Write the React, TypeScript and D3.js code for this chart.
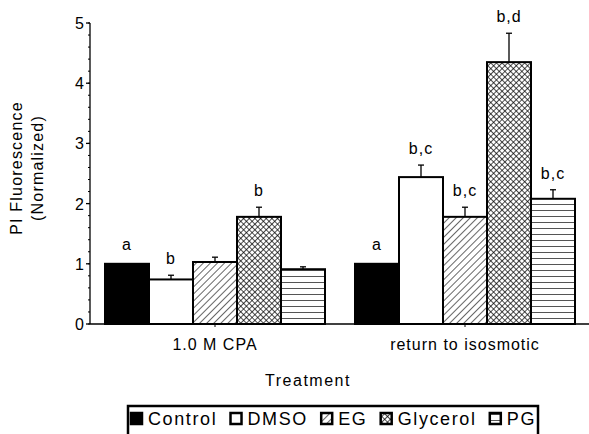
import React from 'react';
import * as d3 from 'd3';

const groups = ['1.0 M CPA', 'return to isosmotic'];
const series = ['Control', 'DMSO', 'EG', 'Glycerol', 'PG'];
const cpaValues = [1.0, 0.74, 1.03, 1.78, 0.91];
const cpaErrors = [0, 0.07, 0.08, 0.16, 0.04];
const isoValues = [1.0, 2.44, 1.78, 4.35, 2.08];
const isoErrors = [0, 0.2, 0.16, 0.48, 0.15];
const cpaLetters = ['a', 'b', '', 'b', ''];
const isoLetters = ['a', 'b,c', 'b,c', 'b,d', 'b,c'];
const yTicks = [0, 1, 2, 3, 4, 5];

const W = 589, H = 434;
const FONT = '"Liberation Sans", Arial, Helvetica, sans-serif';
const fills: Record<string, string> = {
  Control: '#000',
  DMSO: '#fff',
  EG: 'url(#hatchEG)',
  Glycerol: 'url(#hatchGly)',
  PG: 'url(#hatchPG)',
};

export default function App() {
  const x0 = d3.scaleBand<string>().domain(groups).range([90, 590]).paddingInner(0.12).paddingOuter(0.06);
  const x1 = d3.scaleBand<string>().domain(series).range([0, x0.bandwidth()]);
  const y = d3.scaleLinear().domain([0, 5]).range([324, 23]);
  const minor = d3.range(0, 5.001, 0.2);
  const data = [
    { g: groups[0], v: cpaValues, e: cpaErrors, l: cpaLetters },
    { g: groups[1], v: isoValues, e: isoErrors, l: isoLetters },
  ];

  // legend layout
  const legFont = 18;
  const legSpacing = 1.6;
  let measure = (s: string) => s.length * legFont * 0.55;
  if (typeof document !== 'undefined') {
    const ctx = document.createElement('canvas').getContext('2d');
    if (ctx) {
      ctx.font = `${legFont}px ${FONT}`;
      measure = (s: string) => ctx.measureText(s).width + s.length * legSpacing;
    }
  }
  const sq = 11, gapSqText = 6;
  const itemWidths = series.map((s) => sq + gapSqText + measure(s));
  const legLeft = 131, legRight = 536;
  const totalItems = d3.sum(itemWidths);
  const between = (legRight - legLeft - totalItems) / (series.length - 1);
  let cursor = legLeft;
  const legItems = series.map((s, i) => {
    const it = { s, x: cursor };
    cursor += itemWidths[i] + between;
    return it;
  });

  return (
    <svg width={W} height={H} style={{ position: 'absolute', left: 0, top: 0, background: '#fff' }} fontFamily={FONT}>
      <defs>
        <pattern id="hatchEG" patternUnits="userSpaceOnUse" width={5} height={5} patternTransform="rotate(45)">
          <rect width={5} height={5} fill="#fff" />
          <line x1={0} y1={0} x2={0} y2={5} stroke="#000" strokeWidth={1.2} />
        </pattern>
        <pattern id="hatchGly" patternUnits="userSpaceOnUse" width={4} height={4} patternTransform="rotate(45)">
          <rect width={4} height={4} fill="#fff" />
          <line x1={0} y1={0} x2={0} y2={4} stroke="#000" strokeWidth={1.4} />
          <line x1={0} y1={0} x2={4} y2={0} stroke="#000" strokeWidth={1.4} />
        </pattern>
        <pattern id="hatchPG" patternUnits="userSpaceOnUse" width={8} height={6}>
          <rect width={8} height={6} fill="#fff" />
          <line x1={0} y1={0.5} x2={8} y2={0.5} stroke="#555" strokeWidth={1} />
        </pattern>
      </defs>

      {/* bars */}
      {data.map((d) => (
        <g key={d.g} transform={`translate(${x0(d.g)},0)`}>
          {series.map((s, i) => {
            const bx = x1(s)!;
            const bw = x1.bandwidth();
            const top = y(d.v[i]);
            const errTop = y(d.v[i] + d.e[i]);
            const cx = bx + bw / 2;
            return (
              <g key={s}>
                {d.e[i] > 0 && (
                  <g stroke="#000" strokeWidth={1.3}>
                    <line x1={cx} x2={cx} y1={top} y2={errTop} />
                    <line x1={cx - 3} x2={cx + 3} y1={errTop} y2={errTop} />
                  </g>
                )}
                <rect x={bx} y={top} width={bw} height={y(0) - top} fill={fills[s]} stroke="#000" strokeWidth={2} />
                {d.l[i] && (
                  <text x={cx} y={errTop - (d.e[i] > 0 ? 11 : 14)} textAnchor="middle" fontSize={16} letterSpacing={1}>
                    {d.l[i]}
                  </text>
                )}
              </g>
            );
          })}
        </g>
      ))}

      {/* y axis */}
      <line x1={90} x2={90} y1={y(5)} y2={y(0)} stroke="#000" strokeWidth={1.3} />
      {minor.map((t) => (
        <line key={t} x1={88} x2={90} y1={y(t)} y2={y(t)} stroke="#000" strokeWidth={1} />
      ))}
      {yTicks.map((t) => (
        <g key={t}>
          <line x1={86} x2={90} y1={y(t)} y2={y(t)} stroke="#000" strokeWidth={1.3} />
          <text x={84} y={y(t) + 6} textAnchor="end" fontSize={16}>
            {t}
          </text>
        </g>
      ))}

      {/* x axis */}
      <line x1={90} x2={589} y1={y(0)} y2={y(0)} stroke="#000" strokeWidth={1.5} />
      {groups.map((g) => (
        <g key={g}>
          <line x1={x0(g)! + x0.bandwidth() / 2} x2={x0(g)! + x0.bandwidth() / 2} y1={y(0)} y2={y(0) + 3} stroke="#000" />
          <text x={x0(g)! + x0.bandwidth() / 2} y={y(0) + 26} textAnchor="middle" fontSize={16} letterSpacing={1}>
            {g}
          </text>
        </g>
      ))}
      <text x={308} y={y(0) + 62} textAnchor="middle" fontSize={16} letterSpacing={1.5}>
        Treatment
      </text>

      {/* y label */}
      <g transform="translate(0,168) rotate(-90)">
        <text x={0} y={22} textAnchor="middle" fontSize={16} letterSpacing={1.2}>PI Fluorescence</text>
        <text x={0} y={43} textAnchor="middle" fontSize={16} letterSpacing={1.2}>(Normalized)</text>
      </g>

      {/* legend */}
      <rect x={128} y={406} width={410} height={40} fill="#fff" stroke="#000" strokeWidth={2.5} />
      {legItems.map((it) => (
        <g key={it.s}>
          <rect x={it.x} y={413} width={sq} height={sq} fill={fills[it.s]} stroke="#000" strokeWidth={2.5} />
          <text x={it.x + sq + gapSqText} y={425} fontSize={legFont} letterSpacing={legSpacing}>
            {it.s}
          </text>
        </g>
      ))}
    </svg>
  );
}
